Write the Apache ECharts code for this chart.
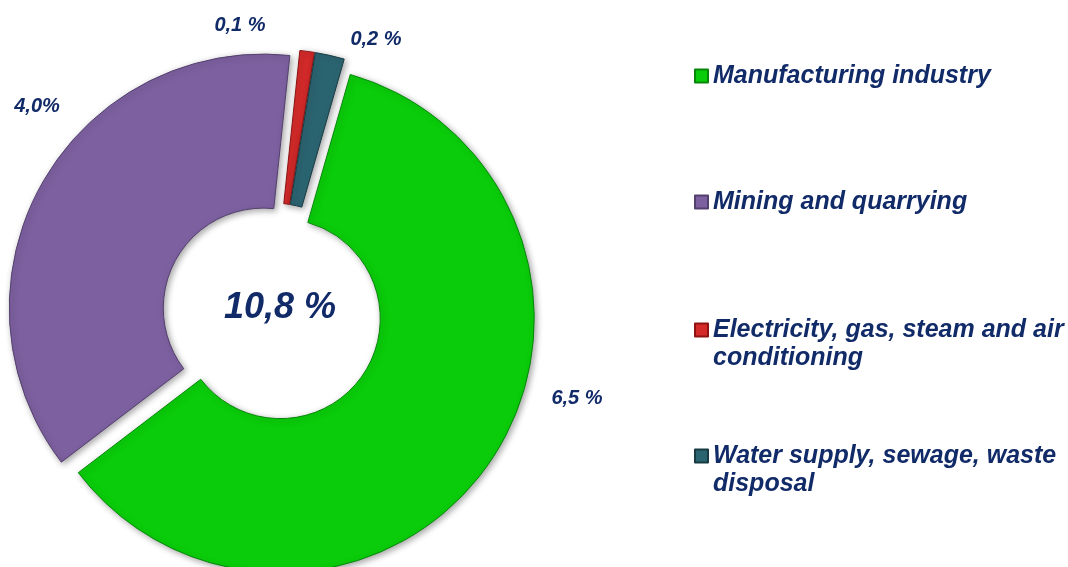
<!DOCTYPE html>
<html>
<head>
<meta charset="utf-8">
<script src="https://cdn.jsdelivr.net/npm/echarts@6/dist/echarts.min.js"></script>
<style>
  html, body { margin: 0; padding: 0; background: #fff; }
  #chart { width: 1068px; height: 567px; }
</style>
</head>
<body>
<div id="chart"></div>
<script>
// slice order goes clockwise from the top
const sectors = ['Electricity, gas, steam and air\nconditioning', 'Water supply, sewage, waste\ndisposal', 'Manufacturing industry', 'Mining and quarrying'];
const shares = [0.1, 0.2, 6.5, 4.0];
const shareLabels = ['0,1 %', '0,2 %', '6,5 %', '4,0%'];
const colors = ['#d42a2a', '#2b6471', '#0acc0a', '#7d60a0'];
const borders = ['#8e1414', '#173a43', '#07880a', '#54406e'];
const legendOrder = ['Manufacturing industry', 'Mining and quarrying', 'Electricity, gas, steam and air\nconditioning', 'Water supply, sewage, waste\ndisposal'];

const navy = '#112a68';
const font = "'Liberation Sans', Arial, sans-serif";

let total = 0;
shares.forEach(v => { total += v; });

let chartDom = document.getElementById('chart');
let myChart = echarts.init(chartDom);

let pieData = [];
for (let i = 0; i < sectors.length; i++) {
  pieData.push({
    name: sectors[i],
    value: shares[i],
    selected: true,
    itemStyle: { color: colors[i], borderColor: borders[i] }
  });
}

// where the small percent labels sit (the pie's own outside layout can't put them there)
const labelSpots = [[240, 25], [376, 39], [577, 398], [37, 106]];
const legendTops = [57, 183, 283, 409];

let legends = legendOrder.map((name, i) => ({
  orient: 'vertical',
  left: 689,
  top: legendTops[i],
  data: [name],
  icon: 'rect',
  itemWidth: 13,
  itemHeight: 13,
  selectedMode: false,
  formatter: function (n) {
    // blank first line keeps the marker level with the first text line
    return n.indexOf('\n') >= 0 ? '\n' + n : n;
  },
  textStyle: {
    color: navy,
    fontSize: 25,
    fontWeight: 'bold',
    fontStyle: 'italic',
    fontFamily: font,
    lineHeight: 28
  }
}));

let labelTexts = shareLabels.map((t, i) => ({
  type: 'text',
  x: labelSpots[i][0],
  y: labelSpots[i][1],
  silent: true,
  style: {
    text: t,
    fill: navy,
    font: "italic bold 20px " + font,
    textAlign: 'center',
    textVerticalAlign: 'middle'
  }
}));

let option = {
  backgroundColor: '#ffffff',
  animation: false,
  title: {
    text: total.toFixed(1).replace('.', ',') + ' %',
    left: 275,
    top: 303,
    textAlign: 'center',
    textVerticalAlign: 'middle',
    textStyle: {
      color: navy,
      fontSize: 36,
      fontWeight: 'bold',
      fontStyle: 'italic',
      fontFamily: font
    }
  },
  legend: legends,
  graphic: labelTexts,
  series: [{
    type: 'pie',
    center: [272, 313],
    radius: [100, 254],
    startAngle: 84,
    clockwise: true,
    selectedMode: 'multiple',
    selectedOffset: 10,
    itemStyle: {
      borderWidth: 1,
      shadowBlur: 6,
      shadowOffsetX: 2,
      shadowOffsetY: 2,
      shadowColor: 'rgba(0,0,0,0.35)'
    },
    emphasis: { disabled: true },
    label: { show: false },
    labelLine: { show: false },
    data: pieData
  }]
};

myChart.setOption(option);
</script>
</body>
</html>
